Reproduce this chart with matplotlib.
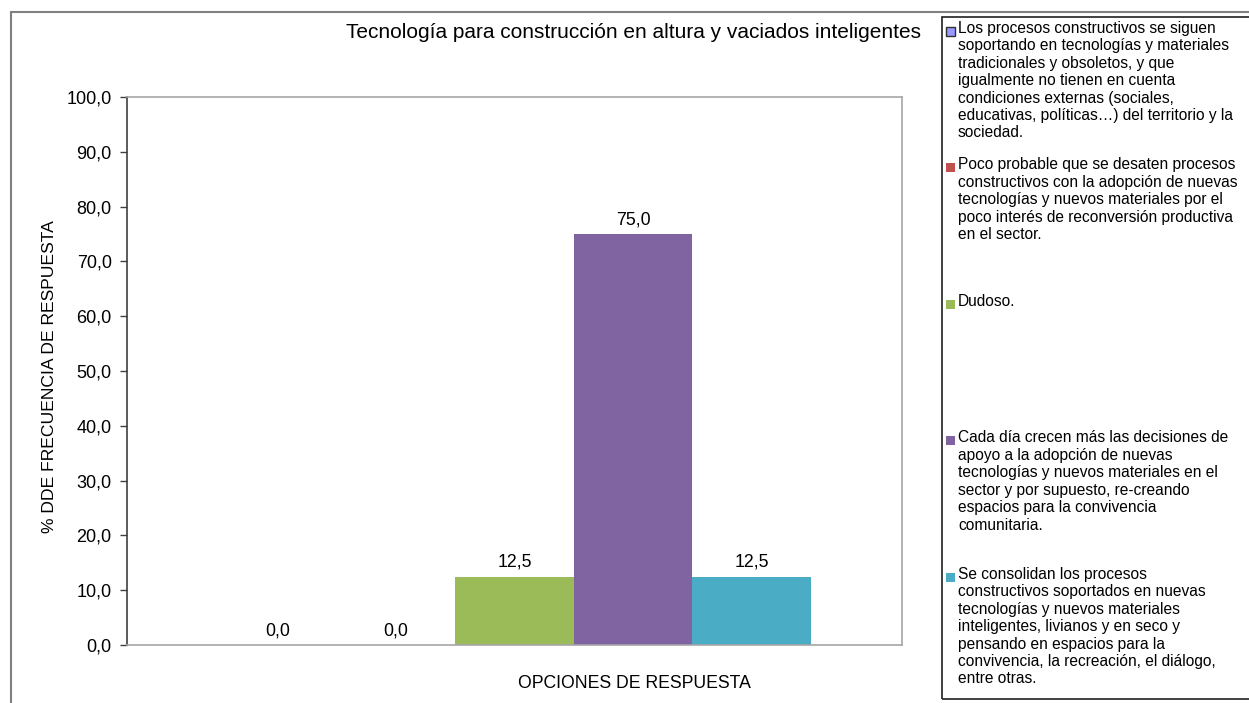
import matplotlib
matplotlib.use('Agg')
import matplotlib.pyplot as plt
from matplotlib.patches import Rectangle

plt.rcParams['font.family'] = ['Liberation Sans', 'DejaVu Sans']

titulo = 'Tecnología para construcción en altura y vaciados inteligentes'
opciones = [
    'Los procesos constructivos se siguen\nsoportando en tecnologías y materiales\ntradicionales y obsoletos, y que\nigualmente no tienen en cuenta\ncondiciones externas (sociales,\neducativas, políticas…) del territorio y la\nsociedad.',
    'Poco probable que se desaten procesos\nconstructivos con la adopción de nuevas\ntecnologías y nuevos materiales por el\npoco interés de reconversión productiva\nen el sector.',
    'Dudoso.',
    'Cada día crecen más las decisiones de\napoyo a la adopción de nuevas\ntecnologías y nuevos materiales en el\nsector y por supuesto, re-creando\nespacios para la convivencia\ncomunitaria.',
    'Se consolidan los procesos\nconstructivos soportados en nuevas\ntecnologías y nuevos materiales\ninteligentes, livianos y en seco y\npensando en espacios para la\nconvivencia, la recreación, el diálogo,\nentre otras.',
]
porcentajes = [0.0, 0.0, 12.5, 75.0, 12.5]
colores = ['#9999FF', '#C0504D', '#9BBB59', '#8064A2', '#4BACC6']
ticks_y = [0, 10, 20, 30, 40, 50, 60, 70, 80, 90, 100]

W, H = 1249, 703
fig = plt.figure(figsize=(W / 100, H / 100), dpi=100)
ax = fig.add_axes([127 / W, 1 - 645 / H, 775 / W, 548 / H])

pos = [i - 2 for i in range(len(porcentajes))]
barras = ax.bar(pos, porcentajes, width=1.0, color=colores, edgecolor='none')
ax.bar_label(barras, labels=[f'{v:.1f}'.replace('.', ',') for v in porcentajes],
             padding=4, fontsize=12.8)

ax.set_xlim(-3.27, 3.27)
ax.set_ylim(0, 100)
ax.set_xticks([])
ax.set_yticks(ticks_y)
ax.set_yticklabels([f'{t:.1f}'.replace('.', ',') for t in ticks_y], fontsize=13)
ax.tick_params(axis='y', direction='out', length=5, width=1, color='#404040', pad=6)
ax.spines['left'].set_color('#404040')
for s in ['top', 'right', 'bottom']:
    ax.spines[s].set_color('#A6A6A6')
for s in ax.spines.values():
    s.set_linewidth(1.2)

# marco exterior y cuadro de leyenda
fig.patches.append(Rectangle((11 / W, -0.05), 1.2, 1.05 - 12 / H, transform=fig.transFigure,
                             fill=False, edgecolor='#808080', linewidth=1.5))
fig.patches.append(Rectangle((942 / W, 1 - 699 / H), 0.3, (699 - 17) / H, transform=fig.transFigure,
                             fill=False, edgecolor='#202020', linewidth=1.2))

fig.text(634 / W, 1 - 33 / H, titulo, ha='center', va='center', fontsize=15)
fig.text(634 / W, 1 - 684 / H, 'OPCIONES DE RESPUESTA', ha='center', va='center', fontsize=12.7)
fig.text(50 / W, 1 - 377 / H, '% DDE FRECUENCIA DE RESPUESTA', ha='center', va='center',
         rotation=90, fontsize=12.6)

# leyenda
y0 = 31
paso = 136.5
for i, (txt, c) in enumerate(zip(opciones, colores)):
    yc = y0 + i * paso
    ec = '#303030' if i == 0 else 'none'
    fig.patches.append(Rectangle((946 / W, 1 - (yc + 4.5) / H), 9 / W, 9 / H, transform=fig.transFigure,
                                 facecolor=c, edgecolor=ec, linewidth=1))
    fig.text(958 / W, 1 - (yc - 10) / H, txt, ha='left', va='top', fontsize=11.2, linespacing=1.2)

fig.savefig('out.png', dpi=100)
